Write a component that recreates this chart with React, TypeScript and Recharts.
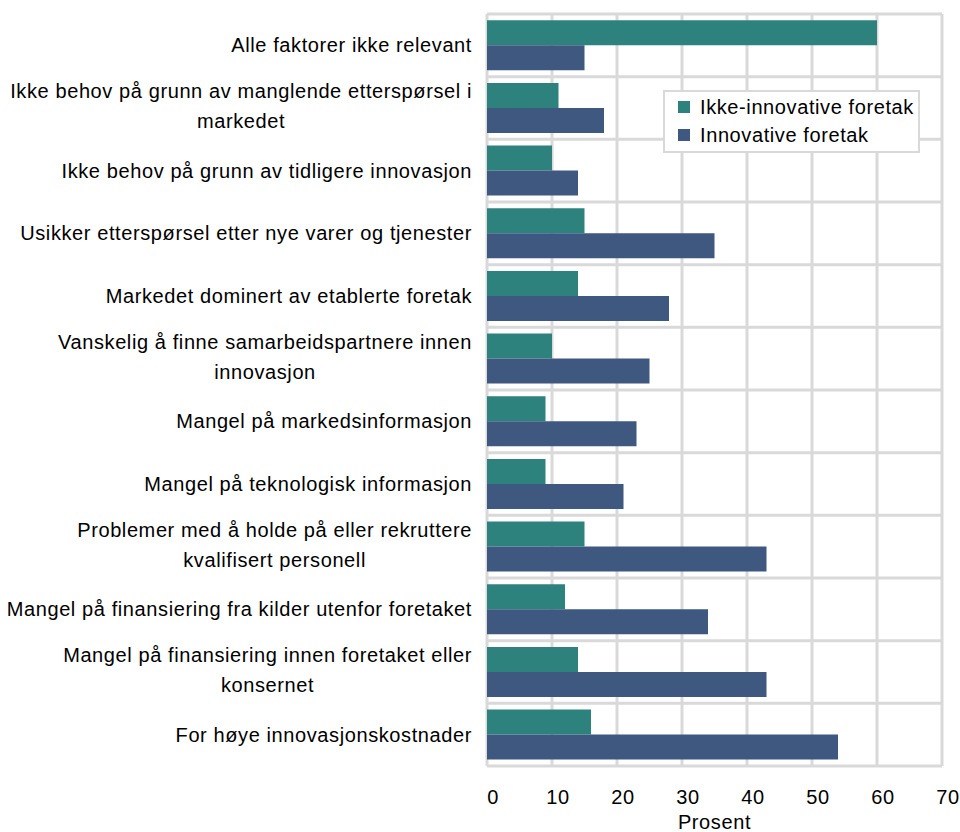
import React from 'react';
import { BarChart, Bar, XAxis, YAxis, CartesianGrid, Legend } from 'recharts';

const categories = [
  'Alle faktorer ikke relevant',
  'Ikke behov på grunn av manglende etterspørsel i\nmarkedet',
  'Ikke behov på grunn av tidligere innovasjon',
  'Usikker etterspørsel etter nye varer og tjenester',
  'Markedet dominert av etablerte foretak',
  'Vanskelig å finne samarbeidspartnere innen\ninnovasjon',
  'Mangel på markedsinformasjon',
  'Mangel på teknologisk informasjon',
  'Problemer med å holde på eller rekruttere\nkvalifisert personell',
  'Mangel på finansiering fra kilder utenfor foretaket',
  'Mangel på finansiering innen foretaket eller\nkonsernet',
  'For høye innovasjonskostnader',
];
const ikkeInnovative = [60, 11, 10, 15, 14, 10, 9, 9, 15, 12, 14, 16];
const innovative = [15, 18, 14, 35, 28, 25, 23, 21, 43, 34, 43, 54];
const xTicks = [0, 10, 20, 30, 40, 50, 60, 70];
const seriesNames = ['Ikke-innovative foretak', 'Innovative foretak'];
const seriesColors = ['#2D827E', '#3E5880'];

const data = categories.map((c, i) => ({ name: c, ikke: ikkeInnovative[i], inn: innovative[i] }));

const FONT = '"Liberation Sans", Arial, sans-serif';
const FS = 20;
const LS = 0.6;

let ctx: CanvasRenderingContext2D | null = null;
function measure(t: string): number {
  if (!ctx) ctx = document.createElement('canvas').getContext('2d');
  if (!ctx) return t.length * 10;
  ctx.font = `${FS}px "Liberation Sans"`;
  return ctx.measureText(t).width + t.length * LS;
}

const YTick = (props: any) => {
  const { x, y, payload } = props;
  const lines = String(payload.value).split('\n');
  const right = x;
  const lh = 30;
  const multi = lines.length > 1;
  const w = Math.max(...lines.map(measure));
  const cx = right - w / 2;
  const startY = y - ((lines.length - 1) * lh) / 2 - (multi ? 2 : 0);
  return (
    <g>
      {lines.map((l, i) => (
        <text
          key={i}
          x={multi ? cx : right}
          y={startY + i * lh}
          textAnchor={multi ? 'middle' : 'end'}
          dominantBaseline="central"
          fontFamily={FONT}
          fontSize={FS}
          letterSpacing={LS}
          fill="#000"
        >
          {l}
        </text>
      ))}
    </g>
  );
};

const LegendContent = () => (
  <div
    style={{
      boxSizing: 'border-box',
      width: 257,
      height: 63,
      border: '2px solid #d9d9d9',
      background: '#fff',
      position: 'relative',
      fontFamily: FONT,
      fontSize: FS,
      letterSpacing: LS,
      color: '#000',
    }}
  >
    {seriesNames.map((n, i) => (
      <div
        key={n}
        style={{ position: 'absolute', left: 13, top: 2 + i * 28, height: 26, display: 'flex', alignItems: 'center', whiteSpace: 'nowrap' }}
      >
        <span style={{ display: 'inline-block', width: 12, height: 12, background: seriesColors[i], marginRight: 10 }} />
        <span>{n}</span>
      </div>
    ))}
  </div>
);

export default function App() {
  return (
    <div style={{ position: 'absolute', left: 0, top: 0, width: 960, height: 832, background: '#fff' }}>
      <BarChart
        width={960}
        height={832}
        data={data}
        layout="vertical"
        margin={{ top: 14, right: 18, bottom: 0, left: 0 }}
        barCategoryGap="10%"
        barGap={0}
      >
        <CartesianGrid
          stroke="#d9d9d9"
          strokeWidth={3}
          horizontalCoordinatesGenerator={({ offset }: any) =>
            Array.from({ length: categories.length + 1 }, (_, i) => offset.top + (i * offset.height) / categories.length)
          }
        />
        <XAxis
          type="number"
          domain={[0, 70]}
          ticks={xTicks}
          axisLine={false}
          tickLine={false}
          tickSize={0}
          tickMargin={24}
          height={66}
          interval={0}
          tick={{ fontFamily: FONT, fontSize: FS, fill: '#000', dx: 6, letterSpacing: LS } as any}
          label={{ value: 'Prosent', position: 'insideBottom', offset: 3, fontFamily: FONT, fontSize: FS, fill: '#000', letterSpacing: LS } as any}
        />
        <YAxis
          type="category"
          dataKey="name"
          width={487}
          axisLine={false}
          tickLine={false}
          tickSize={0}
          tickMargin={15}
          interval={0}
          tick={<YTick />}
        />
        <Legend
          layout="horizontal"
          verticalAlign="middle"
          align="center"
          wrapperStyle={{ left: 663, top: 90, width: 257, height: 63, right: 'auto', bottom: 'auto', margin: 0 }}
          content={<LegendContent />}
        />
        <Bar dataKey="ikke" name={seriesNames[0]} fill={seriesColors[0]} isAnimationActive={false} />
        <Bar dataKey="inn" name={seriesNames[1]} fill={seriesColors[1]} isAnimationActive={false} />
      </BarChart>
    </div>
  );
}
